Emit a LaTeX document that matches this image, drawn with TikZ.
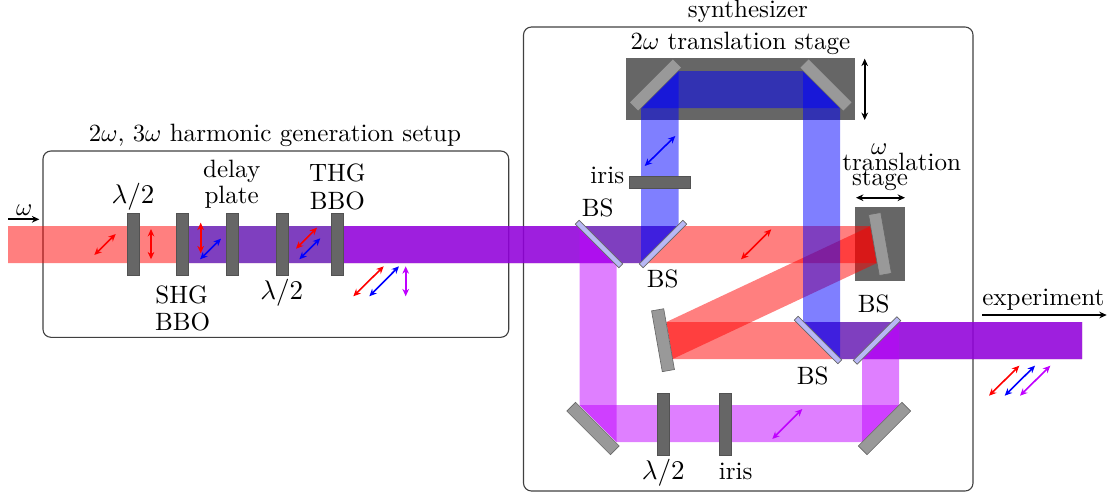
\documentclass[tikz,border=0pt]{standalone}
\usepackage{xcolor}
\usepackage{tikz}
\usetikzlibrary{arrows.meta}
\definecolor{BeamRed}{HTML}{FF0000}
\definecolor{BeamBlue}{HTML}{0000FF}
\definecolor{BeamViolet}{HTML}{BF00FF}
\definecolor{StageGray}{HTML}{666666}
\definecolor{MirrorGray}{HTML}{999999}
\definecolor{SplitterBlue}{HTML}{B8B8F5}
\begin{document}
\begin{tikzpicture}[
  x=.405pt,y=-.405pt,
  stage/.style={fill=StageGray,inner sep=0pt,outer sep=0pt},
  plate/.style={draw=StageGray!80!black,fill=StageGray,line width=.25pt,inner sep=0pt,minimum width=5pt,minimum height=25pt},
  iris/.style={plate,minimum width=25pt,minimum height=5pt},
  mirror/.style={draw=StageGray,fill=MirrorGray,line width=.25pt,inner sep=0pt,minimum width=25pt,minimum height=5pt},
  tilted/.style={mirror,minimum width=5pt,minimum height=25pt,rotate=10},
  splitter/.style={draw=StageGray,fill=SplitterBlue,line width=.25pt,inner sep=0pt,minimum width=25pt,minimum height=2.2pt},
  frame/.style={draw=black!75,line width=.45pt,rounded corners=3.2pt},
  lbl/.style={anchor=base,inner sep=0pt,font=\fontsize{10.15}{12}\selectfont},
  wave/.style={lbl,font=\fontsize{10.8}{12}\selectfont},
  red beam/.style={fill=BeamRed,fill opacity=.5},
  blue beam/.style={fill=BeamBlue,fill opacity=.5},
  violet beam/.style={fill=BeamViolet,fill opacity=.5},
  pol/.style={{Stealth[length=3pt,width=2.7pt]}-{Stealth[length=3pt,width=2.7pt]},line width=.65pt},
  travel/.style={pol,black,line width=.75pt},
  heading/.style={-{Stealth[length=3pt,width=2.7pt]},line width=.75pt,black}
]
\useasboundingbox (0,0) rectangle (1116,496);
\draw[frame] (43,151) rectangle (508.7,337.3);
\draw[frame] (523.5,27) rectangle (973,491);
\node[stage,minimum width=93pt,minimum height=25pt] (stagetwo) at (740.5,89) {};
\node[stage,minimum width=20pt,minimum height=30pt] (stageone) at (880,244.3) {};
\fill[red beam] (8,226) -- (870.8,226) -- (877,263) -- (8,263) -- cycle;
\fill[red beam] (870.8,226) -- (877,263) -- (672.6,359) -- (666.4,322) -- cycle;
\fill[red beam] (666.4,322) -- (1082,322) -- (1082,359) -- (672.6,359) -- cycle;
\fill[blue beam] (182,226) -- (678.5,226) -- (641,263) -- (182,263) -- cycle;
\fill[blue beam] (641,263) -- (678.5,226) -- (678.5,71) -- (641,108) -- cycle;
\fill[blue beam] (641,108) -- (678.5,71) -- (803,71) -- (840,108) -- cycle;
\fill[blue beam] (803,71) -- (840,108) -- (840,359) -- (803,322) -- cycle;
\fill[blue beam] (803,322) -- (1082,322) -- (1082,359) -- (840,359) -- cycle;
\fill[violet beam] (338,226) -- (579.5,226) -- (616.5,263) -- (338,263) -- cycle;
\fill[violet beam] (579.5,226) -- (616.5,263) -- (616.5,442) -- (579.5,405) -- cycle;
\fill[violet beam] (579.5,405) -- (899,405) -- (862,442) -- (616.5,442) -- cycle;
\fill[violet beam] (862,442) -- (899,405) -- (899,322) -- (862,359) -- cycle;
\fill[violet beam] (862,359) -- (899,322) -- (1082,322) -- (1082,359) -- cycle;
\node[plate] (halfa) at (133,244.3) {};
\node[plate] (shg) at (182.5,244.3) {};
\node[plate] (delay) at (232,244.3) {};
\node[plate] (halfb) at (282,244.3) {};
\node[plate] (thg) at (337.5,244.3) {};
\node[iris] (iristop) at (659.7,182) {};
\node[plate] (halfc) at (663.2,424.5) {};
\node[plate] (irisbot) at (725.5,424.5) {};
\node[mirror,rotate=45] (mtl) at (655.5,85) {};
\node[mirror,rotate=-45] (mtr) at (826,85) {};
\node[mirror,rotate=-45] (mbl) at (593,428.5) {};
\node[mirror,rotate=45] (mbr) at (884.5,428.5) {};
\node[tilted] (mone) at (880,244) {};
\node[tilted] (mtwo) at (663,340.2) {};
\node[splitter,rotate=-45] (bsa) at (599,244) {};
\node[splitter,rotate=45] (bsb) at (663,244) {};
\node[splitter,rotate=-45] (bsc) at (818,340) {};
\node[splitter,rotate=45] (bsd) at (877,340.5) {};
\draw[pol,BeamRed] (94.3,255) -- (115.7,234);
\draw[pol,BeamRed] (151,229) -- (151,259.3);
\draw[pol,BeamRed] (200.7,222.7) -- (200.7,253.3);
\draw[pol,BeamBlue] (200,259.3) -- (221,238.7);
\draw[pol,BeamRed] (296,248.7) -- (317,227.7);
\draw[pol,BeamBlue] (299.3,259.3) -- (320.3,238.3);
\draw[pol,BeamRed] (353.3,296.3) -- (383.7,266.3);
\draw[pol,BeamBlue] (369.3,296.3) -- (399,266.3);
\draw[pol,BeamViolet] (405.7,266.3) -- (405.7,296.3);
\draw[pol,BeamBlue] (644.7,166) -- (675.3,136);
\draw[pol,BeamRed] (741,259.3) -- (771.3,229.3);
\draw[pol,BeamViolet] (772.3,439) -- (802.3,409);
\draw[pol,BeamRed] (989,395.7) -- (1019.3,365.7);
\draw[pol,BeamBlue] (1004.7,395.7) -- (1035,365.7);
\draw[pol,BeamViolet] (1020,395.7) -- (1050.3,365.7);
\draw[travel] (864.7,58.7) -- (864.7,120);
\draw[travel] (856,197.7) -- (905,197.7);
\draw[heading] (8.3,219.3) -- (39.3,219.3);
\draw[heading] (982,315) -- (1106.7,315);
\node[lbl] (setup) at (275,141) {$2\omega$, $3\omega$ harmonic generation setup};
\node[lbl] (synth) at (748,17) {synthesizer};
\node[lbl] (twostage) at (740.5,49) {$2\omega$ translation stage};
\node[lbl] (omega) at (24.3,215) {$\omega$};
\node[wave] (halfatxt) at (133,203) {$\lambda/2$};
\node[lbl] (delaytxt) at (231.7,177) {delay};
\node[lbl] (platetxt) at (231.7,203) {plate};
\node[lbl] (thgtxt) at (337.3,181.7) {THG};
\node[lbl] (thgbbo) at (337.3,209) {BBO};
\node[lbl] (shgtxt) at (181.7,303) {SHG};
\node[lbl] (shgbbo) at (182.7,330) {BBO};
\node[wave] (halfbtxt) at (281.7,299) {$\lambda/2$};
\node[lbl] (iristxt) at (607.3,183.3) {iris};
\node[lbl] (bsatxt) at (597.7,216) {BS};
\node[lbl] (bsbtxt) at (662.7,287.7) {BS};
\node[lbl] (omegaone) at (879.3,154.7) {$\omega$};
\node[lbl] (transtxt) at (901.7,170.7) {translation};
\node[lbl] (stagetxt) at (880,185) {stage};
\node[lbl] (bsdtxt) at (873.7,312.7) {BS};
\node[lbl] (bsctxt) at (812.7,384.3) {BS};
\node[lbl] (exptxt) at (1043.3,305.7) {experiment};
\node[wave] (halfctxt) at (663.3,479) {$\lambda/2$};
\node[lbl] (irisbottxt) at (735.7,479) {iris};
\end{tikzpicture}
\end{document}
